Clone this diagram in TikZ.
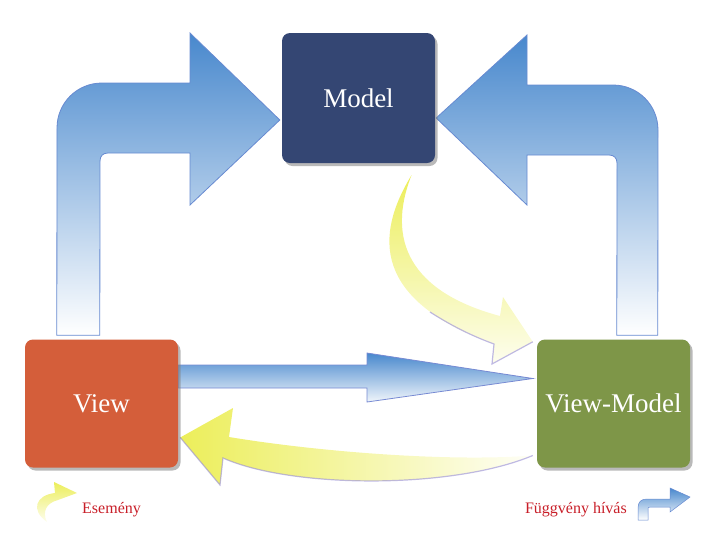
\documentclass[tikz,border=0pt]{standalone}
\usepackage{fontspec}
\setmainfont{Liberation Serif}
\usetikzlibrary{positioning,shadows,calc,backgrounds}
\definecolor{modelC}{RGB}{52,70,115}
\definecolor{viewC}{RGB}{212,94,58}
\definecolor{vmC}{RGB}{126,150,72}
\definecolor{arrB}{RGB}{72,136,205}
\definecolor{arrY}{RGB}{236,238,90}
\definecolor{edgeV}{RGB}{150,140,215}
\definecolor{legR}{RGB}{200,30,40}
\tikzstyle{recNode} = [rectangle, minimum width=153pt, minimum height=128pt, text centered, rounded corners=8pt, text=white, font=\fontsize{27}{30}\selectfont, drop shadow={shadow xshift=2.5pt,shadow yshift=-3pt,opacity=0.55}]
\tikzstyle{recNodeM} = [recNode, fill=modelC, minimum height=130pt]
\tikzstyle{recNodeV} = [recNode, fill=viewC]
\tikzstyle{recNodeG} = [recNode, fill=vmC]
\tikzstyle{eNode} = [text=legR, font=\fontsize{16}{18}\selectfont, inner sep=0pt]
\tikzstyle{arrowB} = [top color=arrB, bottom color=white, draw=arrB!60!edgeV, line width=0.8pt]
\tikzstyle{arrowBm} = [top color=arrB, bottom color=arrB!8, draw=arrB!40!edgeV, line width=0.8pt]
\tikzstyle{arrowY} = [top color=arrY, bottom color=arrY!10]
\tikzstyle{arrowYh} = [left color=arrY, right color=arrY!5]
\tikzstyle{edgeLine} = [draw=edgeV, line width=1.2pt, opacity=0.6]

\begin{document}
\begin{tikzpicture}[x=1pt, y=-1pt, node distance=305.5pt]
    \useasboundingbox (0,0) rectangle (715,547);
    \node (model) [recNodeM] at (358.5,98) {Model};
    \node (view) [recNodeV, below of=model, xshift=-257pt] {View};
    \node (vm) [recNodeG, node distance=512pt, right of=view] {View-Model};

    \begin{pgfonlayer}{background}
    % calls
    \path [arrowB] ($(view.north west)+(32,-4)$) -- (57,128) .. controls (57,103) and (77,83) .. (102,83)
        -- (190,83) -- (190,33) -- ($(model.west)+(-2,22)$) -- (190,205) -- (190,153) -- (108,153)
        .. controls (103,153) and (100,156) .. (100,161) -- ($(view.north west)+(75,-4)$) -- cycle;
    \path [arrowB] ($(vm.north west)+(121,-4)$) -- (658,130) .. controls (658,105) and (638,85) .. (613,85)
        -- (527,85) -- (527,35) -- ($(model.east)+(1,20)$) -- (527,205) -- (527,155) -- (609,155)
        .. controls (614,155) and (617,158) .. (617,163) -- ($(vm.north west)+(80,-4)$) -- cycle;
    \path [arrowBm] ($(view.east)+(0,-38.5)$) -- (367,365) -- (367,353) -- ($(vm.west)+(-4,-25)$)
        -- (367,402) -- (367,388) -- ($(view.east)+(0,-15.5)$) -- cycle;

    % events
    \path [arrowY] ($(model.south)+(53,12)$) .. controls (375,235) and (372,300) .. (494,344) -- (492,364)
        -- ($(vm.north west)+(-4,2.5)$) -- (503,297) -- (500,316) .. controls (410,292) and (386,240) .. ($(model.south)+(53,12)$) -- cycle;
    \draw [edgeLine] (430,312) .. controls (455,328) and (475,337) .. (494,344) -- (492,364) -- ($(vm.north west)+(-4,2.5)$);
    \path [arrowYh] ($(vm.west)+(-4,52)$) .. controls (450,462) and (320,452) .. (229,437) -- (233,408)
        -- ($(view.east)+(2,34)$) -- (220,485) -- (223,458) .. controls (290,488) and (450,490) .. ($(vm.west)+(-4,52)$) -- cycle;
    \draw [edgeLine] ($(view.east)+(2,34)$) -- (220,485) -- (223,458) .. controls (290,488) and (450,490) .. ($(vm.west)+(-4,52)$);
    \end{pgfonlayer}

    % legend
    \node (event) [eNode, anchor=base west] at (82,513) {Esemény};
    \node (call) [eNode, anchor=base east] at (627,513) {Függvény hívás};
    \path [arrowY] (47,522) .. controls (30,510) and (36,495) .. (55,493) -- (54,482) -- (77,493)
        -- (58,500) .. controls (46,503) and (42,512) .. (47,522) -- cycle;
    \path [arrowB, line width=0.5pt] (638,520) -- (638,508) .. controls (638,502) and (641,499) .. (647,499)
        -- (670,499) -- (670,488) -- (690,497) -- (670,512) -- (670,507) -- (650,507)
        .. controls (648,507) and (648,508) .. (648,510) -- (648,520) -- cycle;
\end{tikzpicture}
\end{document}
